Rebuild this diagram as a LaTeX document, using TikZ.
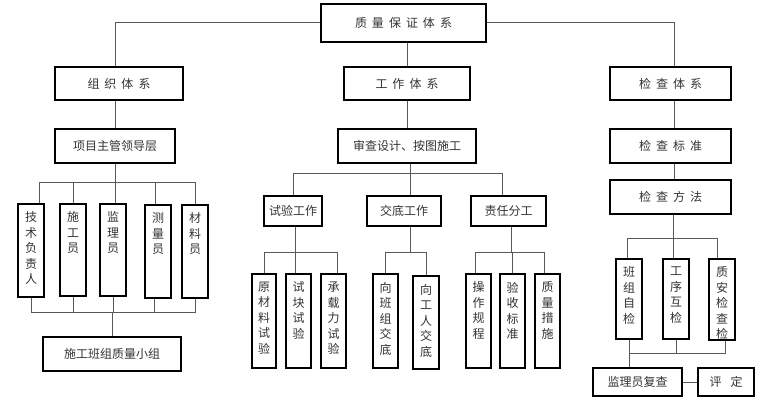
\documentclass[tikz,border=0pt]{standalone}
\usepackage{fontspec}
\setmainfont{Noto Sans CJK SC}
\usetikzlibrary{fit}
\newcommand\gp{\hspace{5pt}}
\tikzset{
 box/.style={draw=black, line width=2.6pt, inner sep=0pt, fill=white},
 conn/.style={draw=black!65, line width=1pt},
 txt/.style={font=\fontsize{12}{15.5}\selectfont, text=black!80, inner sep=0pt, align=center},
}
\newcommand\hbx[6]{\node[box, fit={({#2+1},{#3+1}) ({#4-1},{#5-1})}] (#1) {}; \node[txt] (#1t) at (#1.center) {#6};}
\newcommand\vbx[6]{\node[box, fit={({#2+1},{#3+1}) ({#4-1},{#5-1})}] (#1) {}; \node[txt, anchor=north] (#1t) at ([yshift=-9pt]#1.north) {#6};}
\begin{document}
\begin{tikzpicture}[x=1pt,y=-1pt]
\useasboundingbox[fill=white] (0,0) rectangle (760,401);
\coordinate (yA) at (0,182);
\coordinate (yB) at (0,312);
\coordinate (yC) at (0,173);
\coordinate (yD) at (0,252);
\coordinate (yE) at (0,238);
\coordinate (yF) at (0,353);
% top levels
\hbx{top}{320}{3}{487}{43}{质\gp 量\gp 保\gp 证\gp 体\gp 系}
\hbx{org}{54}{66}{184}{101}{组\gp 织\gp 体\gp 系}
\hbx{proj}{54}{128}{176}{164}{项目主管领导层}
\hbx{work}{343}{66}{471}{101}{工\gp 作\gp 体\gp 系}
\hbx{rev}{337}{128}{477}{164}{审查设计、按图施工}
\hbx{chk}{609}{66}{732}{101}{检\gp 查\gp 体\gp 系}
\hbx{std}{609}{128}{732}{164}{检\gp 查\gp 标\gp 准}
\hbx{meth}{609}{179}{732}{215}{检\gp 查\gp 方\gp 法}
% organisation members
\vbx{m1}{17}{203}{45}{298}{技\\术\\负\\责\\人}
\vbx{m2}{59}{203}{87}{297}{施\\工\\员}
\vbx{m3}{99}{203}{127}{297}{监\\理\\员}
\vbx{m4}{144}{204}{172}{299}{测\\量\\员}
\vbx{m5}{181}{204}{209}{299}{材\\料\\员}
\hbx{team}{42}{336}{182}{372}{施工班组质量小组}
% work
\hbx{t1}{263}{195}{323}{227}{试验工作}
\hbx{t2}{366}{195}{442}{227}{交底工作}
\hbx{t3}{470}{195}{547}{227}{责任分工}
\vbx{s1}{251}{273}{277}{369}{原\\材\\料\\试\\验}
\vbx{s2}{285}{273}{312}{369}{试\\块\\试\\验}
\vbx{s3}{320}{273}{347}{369}{承\\载\\力\\试\\验}
\vbx{d1}{372}{273}{399}{369}{向\\班\\组\\交\\底}
\vbx{d2}{412}{275}{440}{370}{向\\工\\人\\交\\底}
\vbx{p1}{465}{273}{492}{369}{操\\作\\规\\程}
\vbx{p2}{499}{273}{526}{369}{验\\收\\标\\准}
\vbx{p3}{534}{273}{561}{369}{质\\量\\措\\施}
% inspection
\vbx{c1}{615}{258}{643}{340}{班\\组\\自\\检}
\vbx{c2}{662}{258}{690}{340}{工\\序\\互\\检}
\vbx{c3}{708}{258}{736}{341}{质\\安\\检\\查\\检}
\hbx{sup}{592}{367}{683}{397}{监理员复查}
\hbx{ev}{697}{367}{755}{397}{评\hspace{9pt}定}
% connectors
\draw[conn] (top.west) -| (proj.north |- org.north);
\draw[conn] (top.east) -| ([xshift=3.5pt]chk.north);
\draw[conn] (work.north) -- (work.north |- top.south);
\draw[conn] (proj.north) -- (proj.north |- org.south);
\draw[conn] (work.south) -- (rev.north);
\draw[conn] ([xshift=3.5pt]chk.south) -- ([xshift=3.5pt]std.north);
\draw[conn] ([xshift=3.5pt]std.south) -- ([xshift=3.5pt]meth.north);
% org bus
\draw[conn] (proj.south) -- (proj.south |- yA);
\draw[conn] ([xshift=8pt]m1.north) |- (m5.north |- yA) -- (m5.north);
\draw[conn] (m2.north) -- (m2.north |- yA);
\draw[conn] ([xshift=2pt]m3.north) -- ([xshift=2pt]m3.north |- yA);
\draw[conn] ([xshift=-3pt]m4.north) -- ([xshift=-3pt]m4.north |- yA);
\draw[conn] (m1.south) |- (m5.south |- yB) -- (m5.south);
\draw[conn] (m2.south) -- (m2.south |- yB);
\draw[conn] (m3.south) -- (m3.south |- yB);
\draw[conn] ([xshift=-4pt]m4.south) -- ([xshift=-4pt]m4.south |- yB);
\draw[conn] (team.north) -- (team.north |- yB);
% work bus
\draw[conn] ([xshift=3pt]rev.south) -- ([xshift=3pt]rev.south |- yC);
\draw[conn] (t1.north) |- ([xshift=-6pt]t3.north |- yC) -- ([xshift=-6pt]t3.north);
\draw[conn] ([xshift=6pt]t2.north) -- ([xshift=6pt]t2.north |- yC);
\draw[conn] ([xshift=2pt]t1.south) -- ([xshift=2pt]t1.south |- yD);
\draw[conn] (s1.north) |- ([xshift=4pt]s3.north |- yD) -- ([xshift=4pt]s3.north);
\draw[conn] ([xshift=-3pt]s2.north) -- ([xshift=-3pt]s2.north |- yD);
\draw[conn] ([xshift=6pt]t2.south) -- ([xshift=6pt]t2.south |- yD);
\draw[conn] (d1.north) |- (d2.north |- yD) -- (d2.north);
\draw[conn] ([xshift=3pt]t3.south) -- ([xshift=3pt]t3.south |- yD);
\draw[conn] ([xshift=-3pt]p1.north) |- ([xshift=-3pt]p3.north |- yD) -- ([xshift=-3pt]p3.north);
\draw[conn] (p2.north) -- (p2.north |- yD);
% inspection bus
\draw[conn] ([xshift=3pt]meth.south) -- ([xshift=3pt]meth.south |- yE);
\draw[conn] ([xshift=-2pt]c1.north) |- ([xshift=-5pt]c3.north |- yE) -- ([xshift=-5pt]c3.north);
\draw[conn] ([xshift=-3pt]c2.north) -- ([xshift=-3pt]c2.north |- yE);
\draw[conn] (c1.south) -- (c1.south |- sup.north);
\draw[conn] (c1.south |- yF) -| ([xshift=3pt]c3.south);
\draw[conn] (c2.south) -- (c2.south |- yF);
\draw[conn] (sup) -- (ev);
\end{tikzpicture}
\end{document}
